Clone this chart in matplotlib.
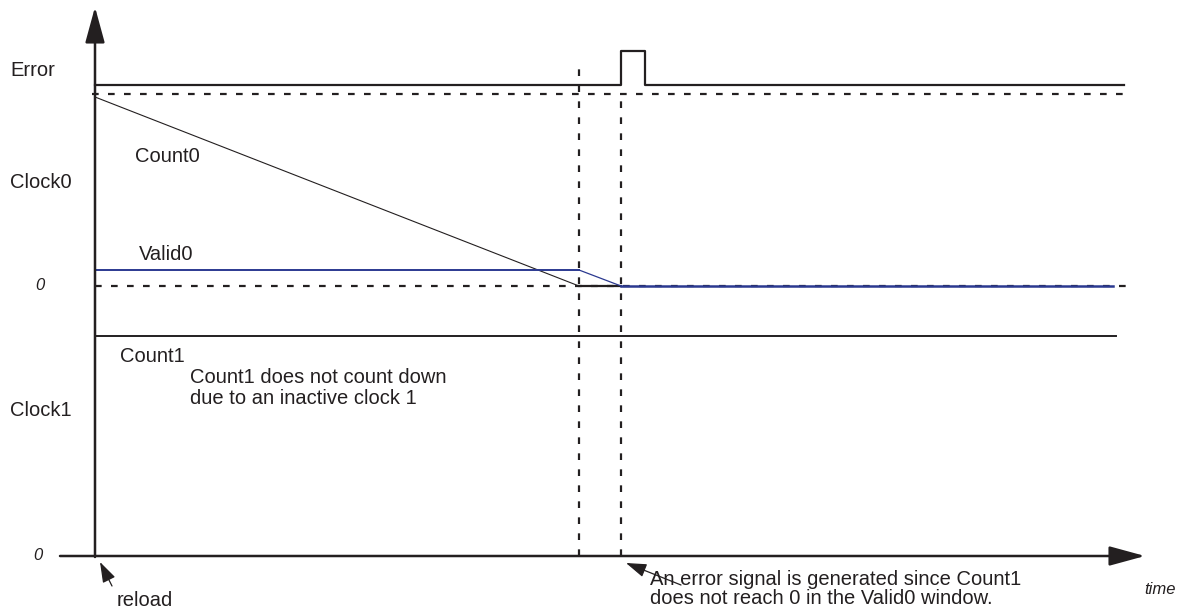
import matplotlib
matplotlib.use("Agg")
import matplotlib.pyplot as plt

# ── diagram data (time units along x, signal level along y) ──────────────────
T_VALID_END = 484      # Valid0 window closes / Count0 reaches 0
T_ERROR = 526          # error detected
T_PULSE_END = 550
T_END = 1029

error_t = [0, T_ERROR, T_ERROR, T_PULSE_END, T_PULSE_END, T_END]
error_v = [471, 471, 505, 505, 471, 471]

count0_t = [0, T_VALID_END, T_ERROR]
count0_v = [459, 270, 270]

valid0_t = [0, T_VALID_END, T_ERROR, 1018]
valid0_v = [286, 286, 270, 270]

count1_t = [0, 1021]
count1_v = [220, 220]

TOP_DASH_LEVEL = 462
ZERO0_LEVEL = 270

BLACK = "#231f20"
BLUE = "#2b3990"
FONT = "Liberation Sans"

fig = plt.figure(figsize=(11.85, 6.09), dpi=100)
ax = fig.add_axes([0, 0, 1, 1])
ax.set_xlim(-95, 1090)
ax.set_ylim(-53, 556)
ax.axis("off")

dash = (0, (3.0, 4.2))

# ── reference dashed lines ───────────────────────────────────────────────────
ax.plot([-3, T_END], [TOP_DASH_LEVEL, TOP_DASH_LEVEL], color=BLACK, lw=1.6, ls=dash)
ax.plot([0, 1033], [ZERO0_LEVEL, ZERO0_LEVEL], color=BLACK, lw=1.6, ls=dash)
ax.plot([T_VALID_END, T_VALID_END], [0, 490], color=BLACK, lw=1.6, ls=dash)
ax.plot([T_ERROR, T_ERROR], [0, TOP_DASH_LEVEL], color=BLACK, lw=1.6, ls=dash)

# ── signals ──────────────────────────────────────────────────────────────────
ax.plot(error_t, error_v, color=BLACK, lw=1.6)
ax.plot(count0_t[:2], count0_v[:2], color=BLACK, lw=0.8)
ax.plot(count0_t[1:], count0_v[1:], color=BLACK, lw=1.6)
ax.plot(valid0_t[:2], valid0_v[:2], color=BLUE, lw=1.4)
ax.plot(valid0_t[1:3], valid0_v[1:3], color=BLUE, lw=0.9)
ax.plot(valid0_t[2:], valid0_v[2:], color=BLUE, lw=1.8)
ax.plot(count1_t, count1_v, color=BLACK, lw=1.4)

# ── axes with arrow heads ────────────────────────────────────────────────────
head = dict(arrowstyle="-|>,head_length=1.1,head_width=0.3", mutation_scale=20,
            lw=1.8, color=BLACK, shrinkA=0, shrinkB=0)
ax.annotate("", xy=(0, 549), xytext=(0, -1), arrowprops=head)
ax.annotate("", xy=(1050, 0), xytext=(-35, 0), arrowprops=head)

# ── labels ───────────────────────────────────────────────────────────────────
big = dict(fontsize=14.5, family=FONT, color=BLACK)
small_it = dict(fontsize=12, family=FONT, color=BLACK, style="italic")

ax.text(-85, 486, "Error", va="center", ha="left", **big)
ax.text(-85, 374, "Clock0", va="center", ha="left", **big)
ax.text(-85, 146, "Clock1", va="center", ha="left", **big)
ax.text(40, 399, "Count0", va="center", ha="left", **big)
ax.text(44, 302, "Valid0", va="center", ha="left", **big)
ax.text(25, 199, "Count1", va="center", ha="left", **big)
ax.text(95, 168, "Count1 does not count down\ndue to an inactive clock 1",
        va="center", ha="left", linespacing=1.1, **big)
ax.text(-50, ZERO0_LEVEL, "0", va="center", ha="right", **small_it)
ax.text(-52, 0, "0", va="center", ha="right", **small_it)
ax.text(1049, -34, "time", va="center", ha="left", **small_it)

# ── annotations ──────────────────────────────────────────────────────────────
thin = dict(arrowstyle="-|>,head_length=0.9,head_width=0.3", mutation_scale=14,
            lw=0.9, color=BLACK, shrinkA=0, shrinkB=0)
ax.annotate("", xy=(5, -6), xytext=(17, -30), arrowprops=thin)
ax.text(22, -44, "reload", va="center", ha="left", **big)

ax.annotate("", xy=(531, -7), xytext=(586, -29), arrowprops=thin)
ax.text(555, -33, "An error signal is generated since Count1\ndoes not reach 0 in the Valid0 window.",
        va="center", ha="left", linespacing=1.05, **big)

fig.savefig("out.png", dpi=100)
